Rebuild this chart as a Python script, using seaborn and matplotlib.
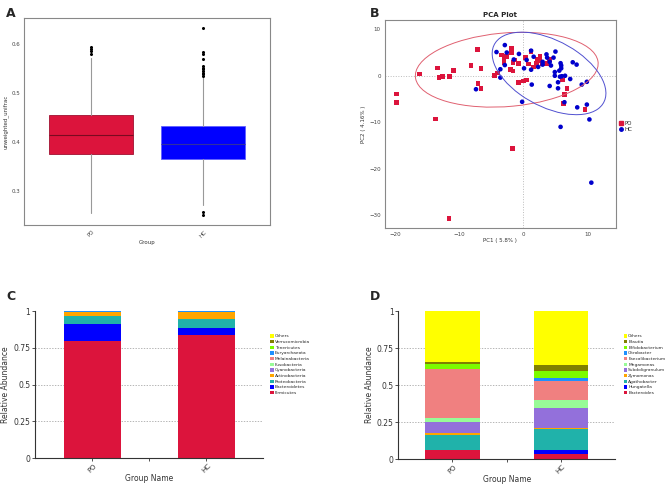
import matplotlib
matplotlib.use("Agg")
import matplotlib.pyplot as plt
from matplotlib.patches import Ellipse, Patch
from matplotlib.lines import Line2D
import seaborn as sns
import numpy as np
import pandas as pd

# ---- panel A: unweighted unifrac box summary ----
groups = ["PO", "HC"]
box_med = [0.413, 0.395]
box_q1 = [0.3755, 0.365]
box_q3 = [0.455, 0.432]
box_whislo = [0.254, 0.271]
box_whishi = [0.570, 0.532]
box_fliers = [
    [0.580, 0.585, 0.590, 0.594],
    [0.251, 0.256, 0.535, 0.538, 0.541, 0.545, 0.548, 0.551, 0.555, 0.568, 0.579, 0.584, 0.633],
]

# ---- panel B: PCA scores ----
po_pc1 = [-19.8, -19.8, -16.2, -13.4, -13.2, -12.6, -11.5, -10.9, -13.7, -11.6, -8.2, -7.2,
          -6.6, -7.1, -6.6, -4.5, -4.0, -1.7, -3.4, -3.0, -3.0, -2.6, -1.9, -1.9, -1.6, -1.3,
          -0.8, -2.0, -1.6, -0.8, 0.0, 0.5, 0.3, 0.8, 1.2, 1.6, 2.0, 2.6, 2.1, 2.6, 3.0, 3.7,
          4.1, 6.1, 6.8, 6.4, 6.3, 9.6]
po_pc2 = [-3.9, -5.7, 0.4, 1.7, -0.4, -0.1, -0.2, 1.1, -9.3, -30.7, 2.2, 5.6,
          1.5, -1.7, -2.8, 0.0, 0.6, -15.6, 4.5, 3.5, 2.9, 4.2, 5.9, 5.0, 2.9, 3.4,
          2.7, 1.4, 1.0, -1.5, -1.1, -0.9, 3.9, 2.5, 5.2, 1.9, 2.7, 4.2, 3.5, 3.2, 2.5, 2.7,
          3.5, -0.9, -2.7, -4.0, -6.0, -7.3]
hc_pc1 = [-7.4, -4.2, -2.9, -2.6, -2.9, -3.6, -3.6, -0.7, -1.5, 0.1, -0.2, 0.5, 1.2, 1.6,
          1.2, 1.3, 2.3, 3.0, 3.0, 3.6, 3.7, 4.1, 4.3, 5.0, 4.9, 4.7, 4.9, 4.1, 5.4, 5.4,
          5.6, 5.9, 5.8, 5.9, 6.0, 6.5, 5.7, 7.3, 7.7, 8.3, 5.8, 6.4, 8.4, 9.1, 9.9, 9.9,
          10.3, 10.6]
hc_pc2 = [-2.9, 5.1, 6.6, 5.0, 2.3, 1.4, -0.4, 4.7, 3.5, 1.6, -5.6, 3.4, 5.4, 4.1,
          1.3, -1.9, 1.9, 3.0, 2.4, 4.6, 3.9, 3.0, 2.2, 5.2, 0.8, 3.9, 0.0, -2.2, -1.4, -2.7,
          1.1, 1.6, 2.7, 2.2, -0.1, 0.0, -0.2, -0.7, 2.9, 2.4, -11.0, -5.7, -6.8, -1.9, -1.3, -6.2,
          -9.4, -23.0]
# confidence ellipses: centre x, centre y, width, height, angle
po_ellipse = (-2.6, 1.3, 28.7, 15.8, 7.5)
hc_ellipse = (4.0, 0.5, 21.6, 12.8, -45)

# ---- panel C: phylum relative abundance (bottom to top) ----
phyla = ["Firmicutes", "Bacteroidetes", "Proteobacteria", "Actinobacteria", "Cyanobacteria",
         "Fusobacteria", "Melainabacteria", "Euryarchaeota", "Tenericutes", "Verrucomicrobia", "Others"]
phyla_po = [0.796, 0.118, 0.050, 0.031, 0.0005, 0.0005, 0.0005, 0.0005, 0.0005, 0.0005, 0.002]
phyla_hc = [0.839, 0.048, 0.061, 0.047, 0.0005, 0.0005, 0.0005, 0.0005, 0.0005, 0.0005, 0.002]

# ---- panel D: genus relative abundance (bottom to top) ----
genera = ["Bacteroides", "Hungatella", "Agathobacter", "Zymomonas", "Subdoligranulum",
          "Megamonas", "Faecalibacterium", "Citrobacter", "Bifidobacterium", "Blautia", "Others"]
genera_po = [0.063, 0.001, 0.100, 0.016, 0.072, 0.024, 0.333, 0.003, 0.030, 0.013, 0.345]
genera_hc = [0.036, 0.027, 0.144, 0.001, 0.141, 0.050, 0.132, 0.018, 0.045, 0.045, 0.361]

stack_colors = ["#DC143C", "#0000FF", "#20B2AA", "#FFA500", "#9370DB", "#98FB98",
                "#F08080", "#1E90FF", "#7CFC00", "#808000", "#FFFF00"]

sns.set_theme(style="white")
plt.rcParams["font.family"] = ["DejaVu Sans"]

fig = plt.figure(figsize=(6.69, 4.84), dpi=100)
axA = fig.add_axes([0.0363, 0.5351, 0.3673, 0.4271])
axB = fig.add_axes([0.5755, 0.5295, 0.3448, 0.4292])
axC = fig.add_axes([0.0523, 0.0531, 0.3413, 0.3043])
axD = fig.add_axes([0.5954, 0.0510, 0.3239, 0.3064])

# ---------------- A ----------------
stats = []
for i, g in enumerate(groups):
    stats.append(dict(label=g, med=box_med[i], q1=box_q1[i], q3=box_q3[i],
                      whislo=box_whislo[i], whishi=box_whishi[i], fliers=box_fliers[i]))
bp = axA.bxp(stats, positions=[0, 1], widths=0.755, patch_artist=True, showcaps=False,
             whiskerprops=dict(color="#999999", linewidth=0.8),
             flierprops=dict(marker="o", markersize=1.2, markerfacecolor="black",
                             markeredgecolor="black"))
box_fc = ["#DC143C", "#0000FF"]
box_ec = ["#A01030", "#6060FF"]
med_c = ["#7A0A20", "#3030A0"]
for i, patch in enumerate(bp["boxes"]):
    patch.set_facecolor(box_fc[i])
    patch.set_edgecolor(box_ec[i])
    patch.set_linewidth(0.6)
    bp["medians"][i].set_color(med_c[i])
    bp["medians"][i].set_linewidth(0.8)
axA.set_xlim(-0.6, 1.6)
axA.set_ylim(0.230, 0.652)
axA.set_yticks([0.3, 0.4, 0.5, 0.6])
axA.set_yticklabels(["0.3", "0.4", "0.5", "0.6"])
axA.set_xticks([0, 1])
axA.set_xticklabels(groups, rotation=45)
axA.tick_params(labelsize=4, colors="#444444", length=1.5, width=0.5, pad=1.5)
axA.set_xlabel("Group", fontsize=4, color="#333333", labelpad=1)
axA.set_ylabel("unweighted_unifrac", fontsize=4, color="#333333", labelpad=2)
for s in axA.spines.values():
    s.set_color("#888888")
    s.set_linewidth(0.8)

# ---------------- B ----------------
pca = pd.DataFrame({
    "PC1": po_pc1 + hc_pc1,
    "PC2": po_pc2 + hc_pc2,
    "Group": ["PO"] * len(po_pc1) + ["HC"] * len(hc_pc1),
})
axB.axhline(0, color="#BBBBBB", linestyle=":", linewidth=0.7, zorder=0)
axB.axvline(0, color="#BBBBBB", linestyle=":", linewidth=0.7, zorder=0)
sns.scatterplot(data=pca, x="PC1", y="PC2", hue="Group", style="Group",
                palette={"PO": "#DC143C", "HC": "#0000CC"},
                markers={"PO": "s", "HC": "o"}, s=11, linewidth=0, ax=axB, legend=False)
for (cx, cy, w, h, ang), col in [(po_ellipse, "#E06070"), (hc_ellipse, "#5050D0")]:
    axB.add_patch(Ellipse((cx, cy), w, h, angle=ang, fill=False, edgecolor=col, linewidth=0.7))
axB.set_xlim(-21.6, 14.4)
axB.set_ylim(-32.7, 12.0)
axB.set_xticks([-20, -10, 0, 10])
axB.set_yticks([-30, -20, -10, 0, 10])
axB.tick_params(labelsize=4, colors="#444444", length=1.5, width=0.5, pad=1.5)
axB.set_xlabel("PC1 ( 5.8% )", fontsize=4, color="#333333", labelpad=1)
axB.set_ylabel("PC2 ( 4.16% )", fontsize=4, color="#333333", labelpad=2)
axB.set_title("PCA Plot", fontsize=5, fontweight="bold", pad=2)
for s in axB.spines.values():
    s.set_color("#888888")
    s.set_linewidth(0.8)
leg_handles = [Line2D([], [], marker="s", color="#DC143C", linestyle="", markersize=2.5, label="PO"),
               Line2D([], [], marker="o", color="#0000CC", linestyle="", markersize=2.5, label="HC")]
fig.legend(handles=leg_handles, loc="upper left", bbox_to_anchor=(0.922, 0.755), frameon=False,
           fontsize=4, handlelength=0.6, handletextpad=0.3, labelspacing=0.05, borderpad=0)


# ---------------- C & D stacked bars ----------------
def stacked(ax, names, po_vals, hc_vals):
    cum_po = np.cumsum(po_vals)
    cum_hc = np.cumsum(hc_vals)
    for k in range(len(names) - 1, -1, -1):
        d = pd.DataFrame({"grp": groups, "val": [min(cum_po[k], 1), min(cum_hc[k], 1)]})
        sns.barplot(data=d, x="grp", y="val", color=stack_colors[k], width=0.5,
                    saturation=1, edgecolor="none", linewidth=0, ax=ax)
    for yv in [0.25, 0.5, 0.75]:
        ax.axhline(yv, color="#999999", linestyle=(0, (2, 2)), linewidth=0.5, zorder=0)
    ax.set_xlim(-0.5, 1.5)
    ax.set_ylim(0, 1)
    ax.set_yticks([0, 0.25, 0.5, 0.75, 1])
    ax.set_yticklabels(["0", "0.25", "0.5", "0.75", "1"])
    ax.set_xticks([0, 1])
    ax.set_xticks([0.5], minor=True)
    ax.set_xticklabels(groups, rotation=45)
    ax.tick_params(axis="y", labelsize=5.5, colors="#333333", length=2, width=0.6, pad=1.5, left=True)
    ax.tick_params(axis="x", which="both", labelsize=5, colors="#333333",
                   length=2, width=0.6, pad=1, bottom=True)
    ax.set_xlabel("Group Name", fontsize=5.5, color="#333333", labelpad=0)
    ax.set_ylabel("Relative Abundance", fontsize=5.5, color="#333333", labelpad=2)
    sns.despine(ax=ax)
    for s in ["left", "bottom"]:
        ax.spines[s].set_color("#333333")
        ax.spines[s].set_linewidth(0.8)


stacked(axC, phyla, phyla_po, phyla_hc)
stacked(axD, genera, genera_po, genera_hc)

for names, x0 in [(phyla, 0.401), (genera, 0.929)]:
    handles = [Patch(facecolor=stack_colors[k], edgecolor="none", label=names[k])
               for k in range(len(names) - 1, -1, -1)]
    fig.legend(handles=handles, loc="upper left", bbox_to_anchor=(x0, 0.314), frameon=False,
               fontsize=3.2, handlelength=0.75, handleheight=0.8, handletextpad=0.25,
               labelspacing=0.32, borderpad=0)

# panel letters
for lbl, x, y in [("A", 0.009, 0.985), ("B", 0.553, 0.985), ("C", 0.009, 0.40), ("D", 0.553, 0.40)]:
    fig.text(x, y, lbl, fontsize=9, fontweight="bold", va="top", ha="left")

fig.savefig("out.png", dpi=100)
